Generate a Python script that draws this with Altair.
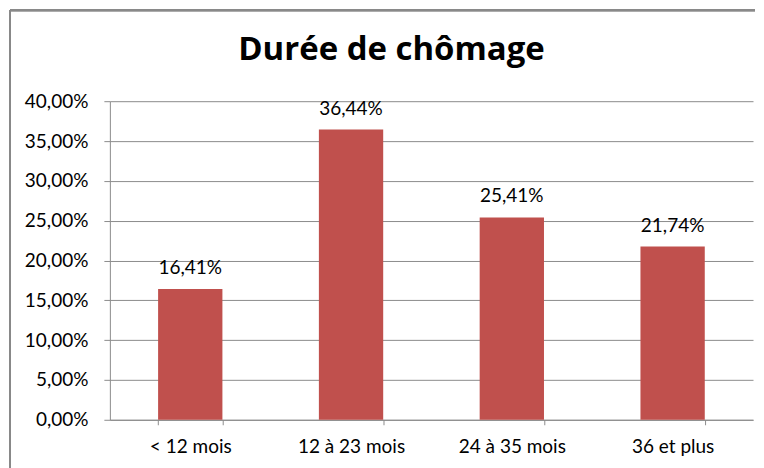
import altair as alt
import pandas as pd

categories = ["< 12 mois", "12 à 23 mois", "24 à 35 mois", "36 et plus"]
values = [0.1641, 0.3644, 0.2541, 0.2174]
title_text = ["Durée de chômage"]

df = pd.DataFrame({"cat": categories, "val": values})

FONT = "Lato"
FS = 19
fr = "replace(format(datum.value, '.2%'), '.', ',')"

base = alt.Chart(df).encode(
    x=alt.X("cat:N", sort=categories, title=None,
            scale=alt.Scale(paddingInner=0.6, paddingOuter=0.3),
            axis=alt.Axis(labelAngle=0, tickBand="extent", tickSize=5, labelPadding=13,
                          labelFontSize=FS, labelColor="#000000", labelFont=FONT,
                          domainColor="#8C8C8C", tickColor="#8C8C8C", grid=False)),
    y=alt.Y("val:Q", title=None,
            scale=alt.Scale(domain=[0, 0.4], nice=False),
            axis=alt.Axis(values=[0, 0.05, 0.1, 0.15, 0.2, 0.25, 0.3, 0.35, 0.4],
                          labelExpr=fr, tickSize=6, labelPadding=16,
                          labelFontSize=FS, labelColor="#000000", labelFont=FONT,
                          domainColor="#8C8C8C", tickColor="#8C8C8C",
                          gridColor="#8C8C8C", gridWidth=1)),
)

bars = base.mark_bar(color="#C0504D")

labels = base.transform_calculate(
    lab="replace(format(datum.val, '.2%'), '.', ',')"
).mark_text(dy=-15, fontSize=FS, font=FONT, color="#000000", baseline="alphabetic").encode(
    text="lab:N"
)

title = alt.Chart(pd.DataFrame({"t": title_text})).mark_text(
    font="Open Sans", fontSize=33, fontWeight="bold", color="#000000",
    align="center", baseline="alphabetic"
).encode(x=alt.value(282), y=alt.value(-41), text="t:N")

border_left = alt.Chart(df).mark_rule(color="#898989", strokeWidth=2).encode(
    x=alt.value(-100), y=alt.value(-91), y2=alt.value(380)
)
border_top = alt.Chart(df).mark_rule(color="#898989", strokeWidth=2).encode(
    x=alt.value(-100), x2=alt.value(646), y=alt.value(-91)
)

chart = alt.layer(bars, labels, title, border_left, border_top).properties(
    width=644,
    height=319,
    padding={"left": 1, "top": 1, "right": 0, "bottom": 0},
).configure_view(stroke=None)

chart.save("out.html", embed_options={"renderer": "svg", "actions": False})
